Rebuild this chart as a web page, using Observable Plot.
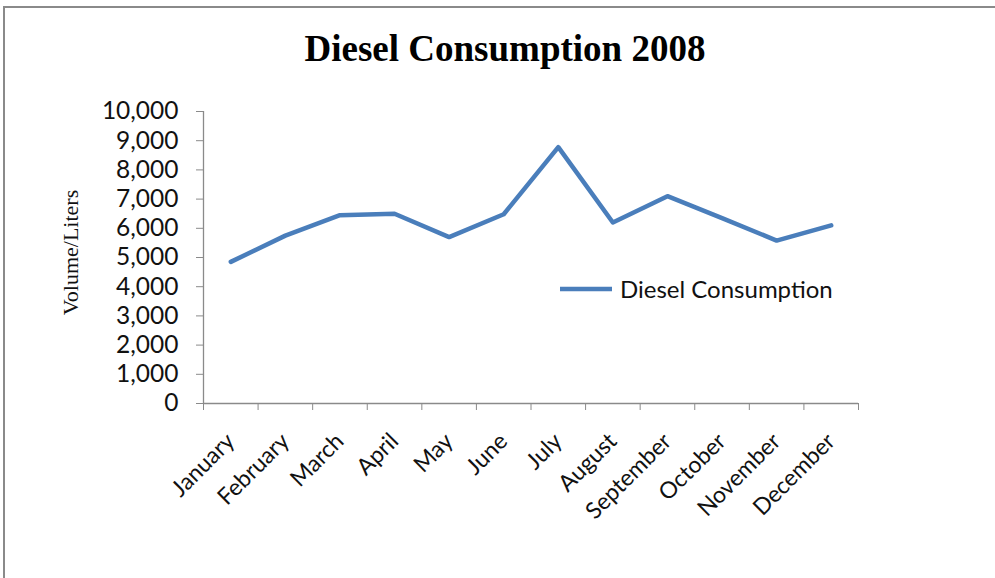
<!DOCTYPE html>
<html>
<head>
<meta charset="utf-8">
<script src="https://cdn.jsdelivr.net/npm/d3@7"></script>
<script src="https://cdn.jsdelivr.net/npm/@observablehq/plot@0.6"></script>
<style>
  html, body { margin: 0; padding: 0; background: #fff; }
  #wrap { position: relative; width: 995px; height: 578px; overflow: hidden; }
  #border { position: absolute; left: 3px; top: 6px; width: 1100px; height: 700px;
            border-left: 2px solid #8a8a8a; border-top: 2px solid #8a8a8a; }
  #title { position: absolute; left: 0; top: 27px; width: 1010px; text-align: center;
           font-family: "Liberation Serif", "Times New Roman", serif; font-weight: bold; font-size: 37px; color: #000; }
  #legend { position: absolute; left: 560px; top: 274px; display: flex; align-items: center;
            font-family: Lato, sans-serif; font-size: 24px; color: #111; }
  #legend svg { margin-right: 8px; }
  #chart { position: absolute; left: 0; top: 0; }
</style>
</head>
<body>
<div id="wrap">
  <div id="border"></div>
  <div id="chart"></div>
  <div id="title">Diesel Consumption 2008</div>
  <div id="legend"><svg width="52" height="10"><line x1="0" y1="5" x2="52" y2="5" stroke="#4a7ebb" stroke-width="4.5"/></svg><span>Diesel Consumption</span></div>
</div>
<script>
const months = ["January","February","March","April","May","June","July","August","September","October","November","December"];
const volume = [4850, 5750, 6450, 6500, 5700, 6480, 8780, 6200, 7100, 6350, 5580, 6100];
const yTicks = [0,1000,2000,3000,4000,5000,6000,7000,8000,9000,10000];
const yLabel = "Volume/Liters";
const seriesColor = "#4a7ebb";
const axisColor = "#8a8a8a";

const data = months.map((m, i) => ({i, month: m, v: volume[i]}));
const idx = months.map((m, i) => i);
const bounds = months.map((m, i) => i - 0.5).concat([months.length - 0.5]);

const chart = Plot.plot({
  width: 995,
  height: 578,
  marginLeft: 203,
  marginRight: 137,
  marginTop: 111,
  marginBottom: 175,
  style: {background: "transparent", overflow: "visible"},
  x: {type: "linear", domain: [-0.5, months.length - 0.5], axis: null},
  y: {domain: [0, 10000], axis: null},
  marks: [
    Plot.ruleX([-0.5], {stroke: axisColor, strokeWidth: 1.3}),
    Plot.ruleY([0], {stroke: axisColor, strokeWidth: 1.3}),
    Plot.axisY(yTicks, {tickSize: 7, tickPadding: 18, stroke: axisColor, fill: "#111",
      fontSize: 24.5, fontFamily: "Lato, sans-serif", tickFormat: d3.format(","), label: null}),
    Plot.axisX(bounds, {tickSize: 7, stroke: axisColor, tickFormat: () => "", label: null}),
    Plot.axisX(idx, {tickSize: 0, tickPadding: 34, tickRotate: -45, fill: "#111",
      fontSize: 23, fontFamily: "Lato, sans-serif", tickFormat: i => months[i], label: null}),
    Plot.text([yLabel], {frameAnchor: "left", textAnchor: "middle", rotate: -90, dx: -133, dy: -5, fontSize: 22,
      fontFamily: "Liberation Serif, Times New Roman, serif", fill: "#111"}),
    Plot.line(data, {x: "i", y: "v", stroke: seriesColor, strokeWidth: 4.5, strokeLinejoin: "round", strokeLinecap: "round"})
  ]
});
document.getElementById("chart").appendChild(chart);
</script>
</body>
</html>
